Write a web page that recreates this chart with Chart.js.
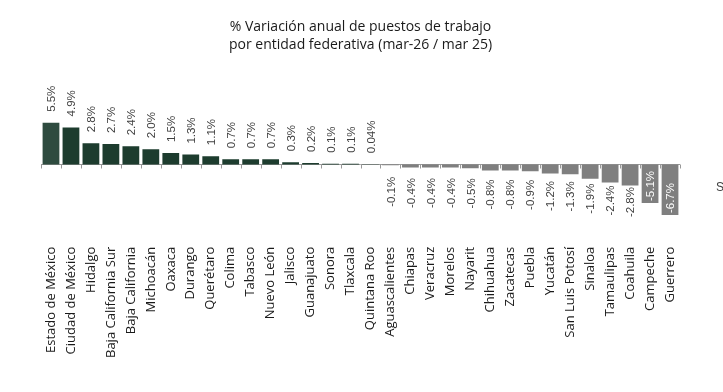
<!DOCTYPE html>
<html>
<head>
<meta charset="utf-8">
<script src="https://cdn.jsdelivr.net/npm/chart.js@4"></script>
<style>
  html, body { margin: 0; padding: 0; background: #fff; }
  #wrap { width: 723px; height: 392px; }
</style>
</head>
<body>
<div id="wrap"><canvas id="myBarChart" width="723" height="392"></canvas></div>
<script>
// entidades
const categories = ["Estado de México", "Ciudad de México", "Hidalgo", "Baja California Sur", "Baja California",
    "Michoacán", "Oaxaca", "Durango", "Querétaro", "Colima", "Tabasco", "Nuevo León", "Jalisco", "Guanajuato",
    "Sonora", "Tlaxcala", "Quintana Roo", "Aguascalientes", "Chiapas", "Veracruz", "Morelos", "Nayarit",
    "Chihuahua", "Zacatecas", "Puebla", "Yucatán", "San Luis Potosí", "Sinaloa", "Tamaulipas", "Coahuila",
    "Campeche", "Guerrero"];

// variación anual (%)
const values = [5.5, 4.9, 2.8, 2.7, 2.4, 2.0, 1.5, 1.3, 1.1, 0.7, 0.7, 0.7, 0.3, 0.2, 0.1, 0.1, 0.04,
    -0.1, -0.4, -0.4, -0.4, -0.5, -0.8, -0.8, -0.9, -1.2, -1.3, -1.9, -2.4, -2.8, -5.1, -6.7];

// etiquetas de los valores
const valueLabels = ["5.5%", "4.9%", "2.8%", "2.7%", "2.4%", "2.0%", "1.5%", "1.3%", "1.1%", "0.7%", "0.7%",
    "0.7%", "0.3%", "0.2%", "0.1%", "0.1%", "0.04%", "-0.1%", "-0.4%", "-0.4%", "-0.4%", "-0.5%", "-0.8%",
    "-0.8%", "-0.9%", "-1.2%", "-1.3%", "-1.9%", "-2.4%", "-2.8%", "-5.1%", "-6.7%"];

const titleLines = ["% Variación anual de puestos de trabajo", "por entidad federativa (mar-26 / mar 25)"];

const barColors = values.map((v, i) => i === 0 ? '#2e4b3f' : (v >= 0 ? '#1d3c2e' : '#7f7f7f'));

// linea del cero con marcas
const zeroAxis = {
    id: 'zeroAxis',
    beforeDatasetsDraw(chart) {
        const ctx = chart.ctx;
        const x = chart.scales.x, y = chart.scales.y;
        const y0 = Math.round(y.getPixelForValue(0)) + 0.5;
        const half = (x.getPixelForValue(1) - x.getPixelForValue(0)) / 2;
        ctx.save();
        ctx.strokeStyle = '#999999';
        ctx.lineWidth = 1;
        ctx.beginPath();
        ctx.moveTo(chart.chartArea.left, y0);
        ctx.lineTo(chart.chartArea.right, y0);
        for (let i = 0; i <= categories.length; i++) {
            const px = Math.round(x.getPixelForValue(i) - half) + 0.5;
            ctx.moveTo(px, y0);
            ctx.lineTo(px, y0 + 4);
        }
        ctx.stroke();
        ctx.restore();
    }
};

// etiquetas verticales de los datos
const barLabels = {
    id: 'barLabels',
    afterDatasetsDraw(chart) {
        const ctx = chart.ctx;
        const meta = chart.getDatasetMeta(0);
        const y0 = chart.scales.y.getPixelForValue(0);
        ctx.save();
        ctx.font = '11.5px "Liberation Sans", Arial, sans-serif';
        ctx.textBaseline = 'middle';
        meta.data.forEach((bar, i) => {
            const v = values[i];
            ctx.save();
            ctx.translate(bar.x + 1, 0);
            ctx.rotate(-Math.PI / 2);
            if (v >= 0) {
                ctx.fillStyle = '#404040';
                ctx.textAlign = 'left';
                ctx.fillText(valueLabels[i], -(bar.y - 11), 0);
            } else if (v < -4) {
                ctx.fillStyle = '#ffffff';
                ctx.textAlign = 'left';
                ctx.fillText(valueLabels[i], -(bar.y - 2), 0);
            } else {
                ctx.fillStyle = '#404040';
                ctx.textAlign = 'right';
                ctx.fillText(valueLabels[i], -(y0 + 12 + 0.5 * (bar.y - y0)), 0);
            }
            ctx.restore();
        });
        // texto recortado en el borde
        ctx.fillStyle = '#404040';
        ctx.font = '12px "Liberation Sans", Arial, sans-serif';
        ctx.textAlign = 'left';
        ctx.fillText('S', 716, 188);
        ctx.restore();
    }
};

var monthlyStatistics = {
    type: 'bar',
    data: {
        labels: categories,
        datasets: [
            {
                label: 'Variación anual',
                backgroundColor: barColors,
                borderWidth: 0,
                data: values,
                categoryPercentage: 1,
                barPercentage: 0.84,
            }
        ],
    },
    options: {
        responsive: false,
        animation: false,
        layout: { padding: { left: 41, right: 43, top: 0, bottom: 30 } },
        plugins: {
            legend: { display: false },
            tooltip: { enabled: false },
            title: {
                display: true,
                text: titleLines,
                color: '#1a1a1a',
                font: { family: '"Open Sans"', size: 14, weight: 'normal', lineHeight: 1.3 },
                padding: { top: 18, bottom: 8 },
            },
        },
        scales: {
            x: {
                grid: { display: false },
                border: { display: false },
                ticks: {
                    autoSkip: false,
                    maxRotation: 90,
                    minRotation: 90,
                    padding: 4,
                    color: '#1a1a1a',
                    font: { family: '"Open Sans"', size: 13 },
                },
            },
            y: {
                display: false,
                min: -9.3,
                max: 13.5,
            },
        },
    },
    plugins: [zeroAxis, barLabels],
};

new Chart(document.getElementById('myBarChart'), monthlyStatistics);
</script>
</body>
</html>
